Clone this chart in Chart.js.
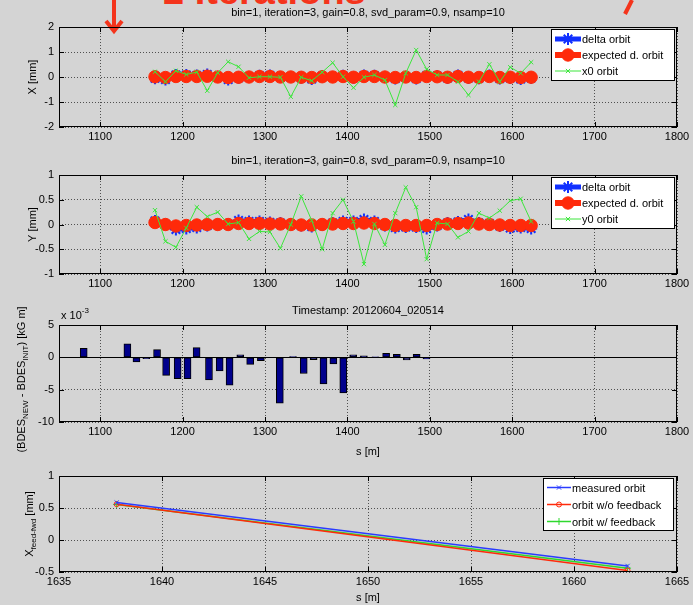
<!DOCTYPE html>
<html>
<head>
<meta charset="utf-8">
<title>Orbit feedback</title>
<script src="https://cdn.jsdelivr.net/npm/chart.js@4.4.0/dist/chart.umd.min.js"></script>
<style>
  html, body { margin: 0; padding: 0; }
  body {
    width: 693px; height: 605px; position: relative; overflow: hidden;
    background: #d4d4d4; font-family: "Liberation Sans", Arial, sans-serif;
  }
  canvas { position: absolute; left: 0; }
  #banner {
    position: absolute; left: 163px; top: -28px; white-space: nowrap;
    font: bold 38px/38px "Liberation Sans", Arial, sans-serif; color: #f4341c;
  }
  #marks { position: absolute; left: 0; top: 0; }
</style>
</head>
<body>
<div id="banner">2 Iterations</div>
<svg id="marks" width="693" height="40">
  <path d="M114 0 V30 M106 21 L114 31 L122 21" stroke="#f4341c" stroke-width="4" fill="none"/>
  <path d="M632 0 L625 14" stroke="#f4341c" stroke-width="4"/>
</svg>
<canvas id="panelX" width="693" height="150" style="top:0"></canvas>
<canvas id="panelY" width="693" height="148" style="top:150px"></canvas>
<canvas id="panelKick" width="693" height="164" style="top:298px"></canvas>
<canvas id="panelFF" width="693" height="143" style="top:462px"></canvas>
<script>
// BPM positions along the line [m]
const bpmS = [1166.5, 1179.2, 1191.9, 1204.5, 1217.2, 1229.9, 1242.6, 1255.3, 1267.9, 1280.6,
              1293.3, 1306.0, 1318.7, 1331.3, 1344.0, 1356.7, 1369.4, 1382.1, 1394.7, 1407.4,
              1420.1, 1432.8, 1445.5, 1458.1, 1470.8, 1483.5, 1496.2, 1508.9, 1521.5, 1534.2,
              1546.9, 1559.6, 1572.3, 1584.9, 1597.6, 1610.3, 1623.0];

// horizontal plane [mm]
const deltaX = [-0.05, -0.10, 0.08, 0.08, 0.06, 0.10, 0.00, -0.10, -0.03, 0.00,
                0.05, 0.06, 0.00, 0.00, -0.03, -0.08, 0.03, 0.00, 0.05, -0.03,
                0.06, 0.05, 0.00, -0.06, 0.00, -0.06, 0.05, 0.04, -0.04, 0.06,
                -0.04, -0.05, 0.06, -0.06, -0.04, -0.08, -0.04];
const expectX = [0.01, -0.02, 0.02, 0.02, 0.02, 0.03, 0.00, -0.02, -0.01, 0.00,
                 0.02, 0.02, 0.00, 0.00, -0.01, -0.02, 0.01, 0.00, 0.02, -0.01,
                 0.02, 0.02, 0.00, -0.02, 0.00, -0.02, 0.02, 0.01, -0.01, 0.02,
                 -0.01, -0.02, 0.02, -0.02, -0.01, -0.02, -0.01];
const x0Orbit = [0.21, -0.19, 0.25, 0.10, 0.20, -0.55, 0.17, 0.61, 0.41, -0.03,
                 0.01, 0.01, -0.01, -0.79, -0.01, -0.15, 0.19, 0.57, 0.01, -0.43,
                 -0.01, 0.08, -0.12, -1.12, 0.15, 1.08, 0.31, 0.08, 0.08, -0.19,
                 -0.72, -0.19, 0.51, -0.19, 0.39, 0.15, 0.59];

// vertical plane [mm]
const deltaY = [0.07, 0.00, -0.10, -0.08, -0.06, -0.02, 0.00, 0.00, 0.08, 0.06,
                0.06, 0.04, 0.03, 0.00, -0.02, -0.04, 0.00, 0.03, 0.06, 0.06,
                0.10, 0.06, -0.02, -0.06, -0.05, -0.05, -0.08, -0.02, 0.03, 0.05,
                0.10, 0.03, 0.02, -0.03, -0.07, -0.06, -0.08];
const expectY = [0.04, 0.00, -0.03, -0.02, -0.01, 0.00, 0.00, 0.00, 0.02, 0.02,
                 0.02, 0.01, 0.01, 0.00, -0.01, -0.01, 0.00, 0.01, 0.02, 0.02,
                 0.03, 0.02, 0.00, -0.02, -0.02, -0.02, -0.02, 0.00, 0.01, 0.02,
                 0.03, 0.01, 0.00, -0.01, -0.02, -0.02, -0.02];
const y0Orbit = [0.29, -0.34, -0.46, -0.07, 0.35, 0.16, 0.25, 0.01, 0.04, -0.29,
                 -0.14, -0.15, -0.48, 0.00, 0.57, 0.08, -0.50, 0.23, 0.50, 0.06,
                 -0.80, 0.01, -0.41, 0.23, 0.75, 0.35, -0.70, 0.03, 0.01, -0.26,
                 -0.14, 0.23, 0.13, 0.28, 0.48, 0.52, 0.06];

// corrector positions [m] and BDES change [x 10^-3 kG m]
const corrS = [1080, 1133, 1144, 1156, 1169, 1180, 1194, 1206, 1217, 1232,
               1245, 1257, 1270, 1282, 1295, 1318, 1334, 1347, 1359, 1371,
               1383, 1395, 1407, 1420, 1434, 1447, 1460, 1472, 1484, 1496];
const corrKick = [1.4, 2.1, -0.7, -0.2, 1.2, -2.8, -3.3, -3.3, 1.5, -3.5,
                  -2.1, -4.3, 0.4, -1.1, -0.5, -7.1, 0.1, -2.5, -0.35, -4.1,
                  -1.0, -5.5, 0.4, 0.25, 0.05, 0.6, 0.45, -0.4, 0.45, -0.25];

// feed-forward check at the two downstream BPMs [mm]
const ffS = [1637.8, 1662.6];
const ffMeasured = [0.585, -0.405];
const ffNoFeedback = [0.56, -0.475];
const ffWithFeedback = [0.555, -0.44];

// tick values
const sTicks = [1100, 1200, 1300, 1400, 1500, 1600, 1700, 1800];
const xTicks = [-2, -1, 0, 1, 2];
const yTicks = [-1, -0.5, 0, 0.5, 1];
const kickTicks = [-10, -5, 0, 5];
const ffSTicks = [1635, 1640, 1645, 1650, 1655, 1660, 1665];
const ffTicks = [-0.5, 0, 0.5, 1];

const FONT = '"Liberation Sans", Arial, sans-serif';
const runTitle = 'bin=1, iteration=3, gain=0.8, svd_param=0.9, nsamp=10';

Chart.defaults.font.family = FONT;
Chart.defaults.font.size = 11;
Chart.defaults.color = '#000';

function pts(xs, ys) {
  return xs.map((x, i) => ({ x: x, y: ys[i] }));
}

function drawMarker(ctx, style, x, y, r, stroke, fill, lw) {
  ctx.save();
  ctx.strokeStyle = stroke;
  ctx.lineWidth = lw;
  ctx.beginPath();
  if (style === 'circle') {
    ctx.arc(x, y, r, 0, Math.PI * 2);
    if (fill && fill !== 'transparent') {
      ctx.fillStyle = fill;
      ctx.fill();
    }
  } else {
    if (style === 'cross' || style === 'star') {
      ctx.moveTo(x - r, y); ctx.lineTo(x + r, y);
      ctx.moveTo(x, y - r); ctx.lineTo(x, y + r);
    }
    if (style === 'crossRot' || style === 'star') {
      const d = r * Math.SQRT1_2;
      ctx.moveTo(x - d, y - d); ctx.lineTo(x + d, y + d);
      ctx.moveTo(x - d, y + d); ctx.lineTo(x + d, y - d);
    }
  }
  ctx.stroke();
  ctx.restore();
}

// text with subscript / superscript pieces, left aligned at x
function drawRich(ctx, parts, x, y) {
  parts.forEach(p => {
    const size = p.sub || p.sup ? 8 : 11;
    ctx.font = size + 'px ' + FONT;
    const dy = p.sub ? 4 : (p.sup ? -5 : 0);
    ctx.fillText(p.t, x, y + dy);
    x += ctx.measureText(p.t).width;
  });
}

function richWidth(ctx, parts) {
  let w = 0;
  parts.forEach(p => {
    ctx.font = (p.sub || p.sup ? 8 : 11) + 'px ' + FONT;
    w += ctx.measureText(p.t).width;
  });
  return w;
}

// MATLAB-style axes box, inner ticks, labels and legend
const axesDecor = {
  id: 'axesDecor',
  beforeDatasetsDraw(chart, args, opts) {
    if (!opts.zeroLine) return;
    const { ctx, chartArea: a, scales: { y } } = chart;
    const py = Math.round(y.getPixelForValue(0)) + 0.5;
    ctx.save();
    ctx.strokeStyle = '#000';
    ctx.lineWidth = 1;
    ctx.beginPath();
    ctx.moveTo(a.left, py);
    ctx.lineTo(a.right, py);
    ctx.stroke();
    ctx.restore();
  },
  afterDraw(chart, args, opts) {
    const { ctx, chartArea: a, scales: { x, y } } = chart;
    ctx.save();
    ctx.strokeStyle = '#000';
    ctx.lineWidth = 1;
    ctx.beginPath();
    x.ticks.forEach(t => {
      const px = Math.round(x.getPixelForValue(t.value)) + 0.5;
      ctx.moveTo(px, a.bottom); ctx.lineTo(px, a.bottom - 5);
      ctx.moveTo(px, a.top); ctx.lineTo(px, a.top + 5);
    });
    y.ticks.forEach(t => {
      const py = Math.round(y.getPixelForValue(t.value)) + 0.5;
      ctx.moveTo(a.left, py); ctx.lineTo(a.left + 5, py);
      ctx.moveTo(a.right, py); ctx.lineTo(a.right - 5, py);
    });
    ctx.stroke();
    ctx.strokeRect(Math.round(a.left) + 0.5, Math.round(a.top) + 0.5,
                   Math.round(a.width) - 1, Math.round(a.height) - 1);

    ctx.fillStyle = '#000';
    ctx.font = '11px ' + FONT;
    ctx.textBaseline = 'middle';
    const cx = (a.left + a.right) / 2;

    if (opts.title) {
      ctx.textAlign = 'center';
      ctx.fillText(opts.title, cx, a.top - 14);
    }
    if (opts.xlabel) {
      ctx.textAlign = 'center';
      ctx.fillText(opts.xlabel, cx, a.bottom + opts.xlabelDy);
    }
    if (opts.ylabel) {
      ctx.save();
      ctx.translate(opts.ylabelX, (a.top + a.bottom) / 2 + (opts.ylabelDy || 0));
      ctx.rotate(-Math.PI / 2);
      ctx.textAlign = 'left';
      drawRich(ctx, opts.ylabel, -richWidth(ctx, opts.ylabel) / 2, 0);
      ctx.restore();
    }
    if (opts.exponent) {
      ctx.textAlign = 'left';
      drawRich(ctx, opts.exponent, a.left + 2, a.top - 9);
    }

    const lg = opts.legend;
    if (lg) {
      const sets = chart.data.datasets;
      const h = lg.rowH * sets.length + lg.pad * 2;
      const x0 = Math.round(a.right - lg.right - lg.width);
      const y0 = Math.round(a.top + lg.top);
      ctx.fillStyle = '#fff';
      ctx.fillRect(x0, y0, lg.width, h);
      ctx.strokeStyle = '#000';
      ctx.lineWidth = 1;
      ctx.strokeRect(x0 + 0.5, y0 + 0.5, lg.width - 1, h - 1);
      ctx.font = '11px ' + FONT;
      ctx.textAlign = 'left';
      sets.forEach((ds, i) => {
        const cy = y0 + lg.pad + lg.rowH * (i + 0.5);
        const l1 = x0 + 4, l2 = x0 + 4 + lg.sample;
        ctx.strokeStyle = ds.borderColor;
        ctx.lineWidth = ds.borderWidth;
        ctx.beginPath();
        ctx.moveTo(l1, cy);
        ctx.lineTo(l2, cy);
        ctx.stroke();
        drawMarker(ctx, ds.pointStyle, (l1 + l2) / 2, cy, ds.pointRadius,
                   ds.borderColor, ds.pointBackgroundColor, ds.pointBorderWidth);
        ctx.fillStyle = '#000';
        ctx.fillText(ds.label, l2 + 1, cy + 1);
      });
    }
    ctx.restore();
  }
};

function axisX(min, max, ticks, height) {
  return {
    type: 'linear',
    min: min,
    max: max,
    offset: false,
    afterBuildTicks: s => { s.ticks = ticks.map(v => ({ value: v })); },
    afterFit: s => { s.height = height; },
    grid: { color: '#505050', lineWidth: 1, drawTicks: false, offset: false },
    border: { display: false, dash: [1, 2] },
    ticks: { padding: 3, maxRotation: 0, autoSkip: false, callback: v => String(v) }
  };
}

function axisY(min, max, ticks) {
  return {
    type: 'linear',
    min: min,
    max: max,
    afterBuildTicks: s => { s.ticks = ticks.map(v => ({ value: v })); },
    afterFit: s => { s.width = 59; },
    grid: { color: '#505050', lineWidth: 1, drawTicks: false },
    border: { display: false, dash: [1, 2] },
    ticks: { padding: 5, autoSkip: false, callback: v => String(v) }
  };
}

function baseOptions(top, decor) {
  return {
    responsive: false,
    animation: false,
    events: [],
    devicePixelRatio: 1,
    layout: { padding: { top: top, right: 16, bottom: 0, left: 0 } },
    plugins: {
      legend: { display: false },
      tooltip: { enabled: false },
      axesDecor: decor
    }
  };
}

function orbitSets(delta, expected, start, startLabel) {
  return [
    {
      label: 'delta orbit', data: pts(bpmS, delta), order: 3,
      borderColor: '#1030ff', backgroundColor: '#1030ff', pointBackgroundColor: '#1030ff',
      borderWidth: 5, pointStyle: 'star', pointRadius: 6, pointBorderWidth: 2
    },
    {
      label: 'expected d. orbit', data: pts(bpmS, expected), order: 2,
      borderColor: '#ff2a0a', backgroundColor: '#ff2a0a', pointBackgroundColor: '#ff2a0a',
      borderWidth: 6, pointStyle: 'circle', pointRadius: 6.2, pointBorderWidth: 1
    },
    {
      label: startLabel, data: pts(bpmS, start), order: 1,
      borderColor: '#3ce63c', backgroundColor: '#3ce63c', pointBackgroundColor: '#3ce63c',
      borderWidth: 1, pointStyle: 'crossRot', pointRadius: 3, pointBorderWidth: 1
    }
  ];
}

const orbitLegend = { right: 2, top: 2, width: 124, rowH: 16, pad: 2, sample: 26 };

// horizontal orbit
const optX = baseOptions(27, {
  title: runTitle,
  ylabel: [{ t: 'X [mm]' }], ylabelX: 33,
  legend: orbitLegend
});
optX.scales = { x: axisX(1050, 1800, sTicks, 23), y: axisY(-2, 2, xTicks) };
new Chart(document.getElementById('panelX'), {
  type: 'line',
  data: { datasets: orbitSets(deltaX, expectX, x0Orbit, 'x0 orbit') },
  options: optX,
  plugins: [axesDecor]
});

// vertical orbit
const optY = baseOptions(25, {
  title: runTitle,
  ylabel: [{ t: 'Y [mm]' }], ylabelX: 33,
  legend: orbitLegend
});
optY.scales = { x: axisX(1050, 1800, sTicks, 24), y: axisY(-1, 1, yTicks) };
new Chart(document.getElementById('panelY'), {
  type: 'line',
  data: { datasets: orbitSets(deltaY, expectY, y0Orbit, 'y0 orbit') },
  options: optY,
  plugins: [axesDecor]
});

// corrector strength changes
const optK = baseOptions(27, {
  title: 'Timestamp: 20120604_020514',
  xlabel: 's [m]', xlabelDy: 30,
  ylabel: [{ t: '(BDES' }, { t: 'NEW', sub: true }, { t: ' - BDES' }, { t: 'INIT', sub: true }, { t: ') [kG m]' }],
  ylabelX: 22, ylabelDy: 6,
  exponent: [{ t: 'x 10' }, { t: '-3', sup: true }],
  zeroLine: true
});
optK.scales = { x: axisX(1050, 1800, sTicks, 40), y: axisY(-10, 5, kickTicks) };
new Chart(document.getElementById('panelKick'), {
  type: 'bar',
  data: {
    datasets: [{
      label: 'BDES change', data: pts(corrS, corrKick),
      backgroundColor: '#00008c', borderColor: '#000', borderWidth: 1,
      barThickness: 7, borderSkipped: false
    }]
  },
  options: optK,
  plugins: [axesDecor]
});

// feed-forward orbit at the end of the line
const optF = baseOptions(14, {
  xlabel: 's [m]', xlabelDy: 26,
  ylabel: [{ t: 'X' }, { t: 'feed-fwd', sub: true }, { t: ' [mm]' }], ylabelX: 30,
  legend: { right: 3, top: 2, width: 131, rowH: 17, pad: 1, sample: 24 }
});
optF.scales = { x: axisX(1635, 1665, ffSTicks, 33), y: axisY(-0.5, 1, ffTicks) };
new Chart(document.getElementById('panelFF'), {
  type: 'line',
  data: {
    datasets: [
      {
        label: 'measured orbit', data: pts(ffS, ffMeasured),
        borderColor: '#2a3cff', pointBackgroundColor: 'transparent',
        borderWidth: 1.5, pointStyle: 'crossRot', pointRadius: 3, pointBorderWidth: 1
      },
      {
        label: 'orbit w/o feedback', data: pts(ffS, ffNoFeedback),
        borderColor: '#ff2a0a', pointBackgroundColor: 'transparent',
        borderWidth: 1.5, pointStyle: 'circle', pointRadius: 2.5, pointBorderWidth: 1
      },
      {
        label: 'orbit w/ feedback', data: pts(ffS, ffWithFeedback),
        borderColor: '#2ed82e', pointBackgroundColor: 'transparent',
        borderWidth: 1.5, pointStyle: 'cross', pointRadius: 3.5, pointBorderWidth: 1
      }
    ]
  },
  options: optF,
  plugins: [axesDecor]
});
</script>
</body>
</html>
